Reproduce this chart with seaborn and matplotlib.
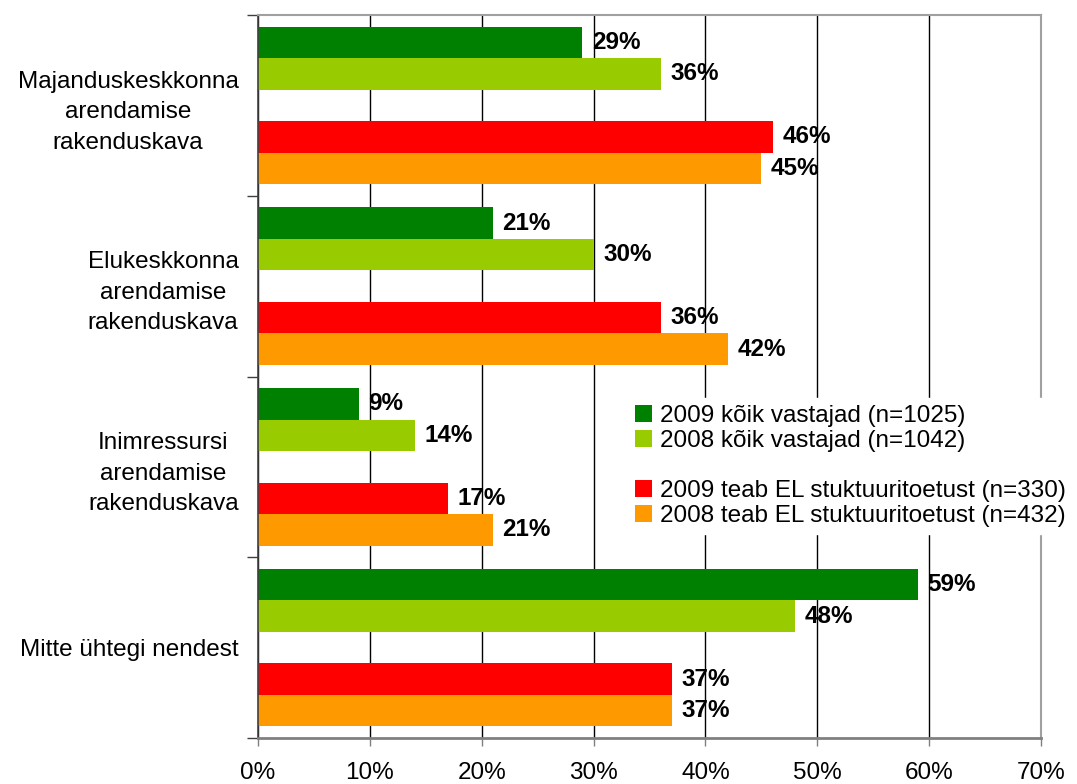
import matplotlib
matplotlib.use("Agg")
import matplotlib.pyplot as plt
import seaborn as sns
import pandas as pd
from matplotlib.patches import Patch
from matplotlib.ticker import FuncFormatter

categories = [
    "Majanduskeskkonna\narendamise\nrakenduskava",
    "Elukeskkonna\narendamise\nrakenduskava",
    "Inimressursi\narendamise\nrakenduskava",
    "Mitte ühtegi nendest",
]
series = [
    "2009 kõik vastajad (n=1025)",
    "2008 kõik vastajad (n=1042)",
    "2009 teab EL stuktuuritoetust (n=330)",
    "2008 teab EL stuktuuritoetust (n=432)",
]
v_2009_all = [29, 21, 9, 59]
v_2008_all = [36, 30, 14, 48]
v_2009_eu = [46, 36, 17, 37]
v_2008_eu = [45, 42, 21, 37]
colors = ["#008000", "#99CC00", "#FF0000", "#FF9900"]
x_ticks = [0, 10, 20, 30, 40, 50, 60, 70]

BLANK = " "

sns.set_theme(style="white")
plt.rcParams["font.family"] = ["Liberation Sans", "DejaVu Sans"]
plt.rcParams["text.color"] = "black"
plt.rcParams["xtick.color"] = "black"
plt.rcParams["ytick.color"] = "black"

rows = []
all_vals = [v_2009_all, v_2008_all, None, v_2009_eu, v_2008_eu]
hue_order = [series[0], series[1], BLANK, series[2], series[3]]
for name, vals in zip(hue_order, all_vals):
    for i, c in enumerate(categories):
        rows.append({"category": c, "series": name, "value": (vals[i] if vals is not None else 0)})
df = pd.DataFrame(rows)
palette = {series[0]: colors[0], series[1]: colors[1], BLANK: "white",
           series[2]: colors[2], series[3]: colors[3]}

fig = plt.figure(figsize=(10.77, 7.84), dpi=100)
ax = fig.add_axes([258 / 1077, 46 / 784, 783 / 1077, 723 / 784])

sns.barplot(data=df, y="category", x="value", hue="series", hue_order=hue_order,
            order=categories, palette=palette, orient="h", width=0.87, gap=0,
            dodge=True, errorbar=None, legend=False, saturation=1, linewidth=0, ax=ax)

for cont, level in zip(ax.containers, hue_order):
    if level == BLANK:
        for p in cont:
            p.set_visible(False)
        continue
    ax.bar_label(cont, labels=[f"{v:g}%" for v in cont.datavalues], padding=7,
                 fontsize=17.5, fontweight="bold", color="black")

ax.set_xlim(0, 70)
ax.set_ylim(3.5, -0.5)
ax.set_xticks(x_ticks)
ax.xaxis.set_major_formatter(FuncFormatter(lambda x, p: f"{x:.0f}%"))
ax.set_xlabel("")
ax.set_ylabel("")
ax.xaxis.grid(True, color="black", linewidth=1)
ax.yaxis.grid(False)
ax.set_axisbelow(True)

ax.set_yticks(range(len(categories)))
ax.set_yticklabels(categories)
ax.set_yticks([-0.5, 0.5, 1.5, 2.5, 3.5], minor=True)
ax.tick_params(axis="y", which="major", length=0, pad=14, labelsize=17.5)
ax.tick_params(axis="y", which="minor", length=8, width=1, color="#404040", left=True)
ax.tick_params(axis="x", which="major", length=6, width=1, color="#808080",
               pad=11, labelsize=17.5, bottom=True)
for lbl in ax.get_yticklabels():
    lbl.set_multialignment("center")
    lbl.set_linespacing(1.5)

ax.spines["left"].set_color("#404040")
ax.spines["left"].set_linewidth(1.2)
for s in ["top", "right"]:
    ax.spines[s].set_color("#a0a0a0")
    ax.spines[s].set_linewidth(1.5)
ax.spines["bottom"].set_color("#808080")
ax.spines["bottom"].set_linewidth(2)

handles = [Patch(facecolor=colors[0], edgecolor="none"),
           Patch(facecolor=colors[1], edgecolor="none"),
           Patch(facecolor="none", edgecolor="none"),
           Patch(facecolor=colors[2], edgecolor="none"),
           Patch(facecolor=colors[3], edgecolor="none")]
labels = [series[0], series[1], " ", series[2], series[3]]
fig.legend(handles, labels, loc="upper left", bbox_to_anchor=(628 / 1077, 1 - 398 / 784),
           frameon=True, facecolor="white", edgecolor="white", framealpha=1,
           fancybox=False, fontsize=17.5, handlelength=0.7, handleheight=0.7,
           handletextpad=0.3, labelspacing=0.12, borderpad=0.3, borderaxespad=0)

fig.savefig("out.png", dpi=100)
